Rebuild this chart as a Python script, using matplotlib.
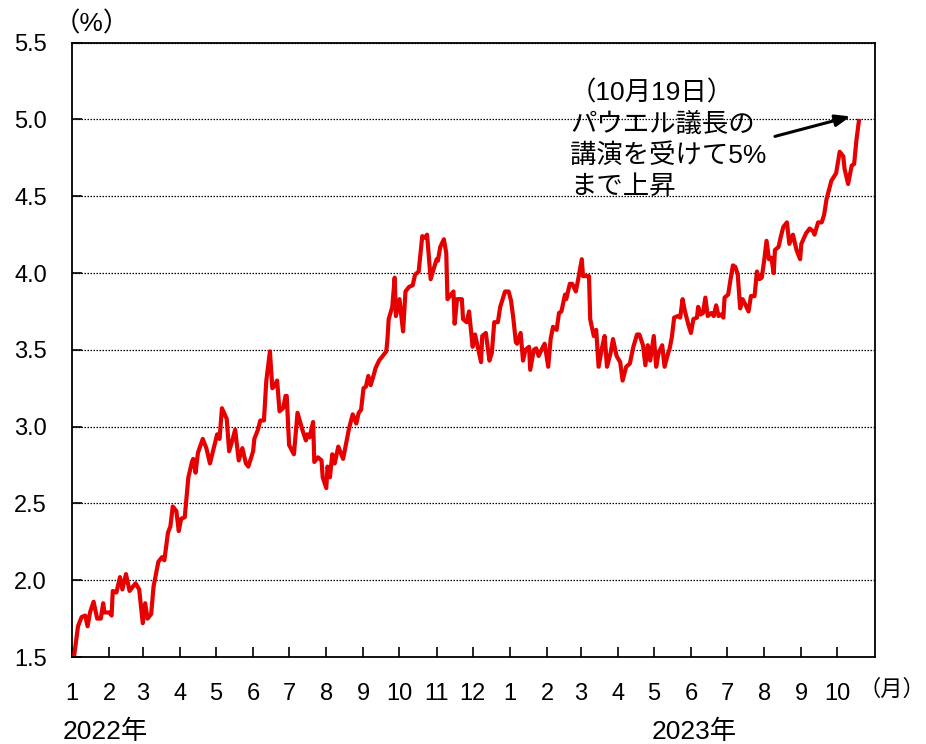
import matplotlib
matplotlib.use("Agg")
import matplotlib.pyplot as plt
import pandas as pd

plt.rcParams['font.family'] = ['Liberation Sans', 'Noto Sans CJK JP', 'DejaVu Sans']

dates_2022 = [
    "2022-01-03", "2022-01-06", "2022-01-09", "2022-01-12", "2022-01-14", "2022-01-16", "2022-01-19",
    "2022-01-22", "2022-01-25", "2022-01-27", "2022-01-28", "2022-02-01", "2022-02-03", "2022-02-04",
    "2022-02-07", "2022-02-10", "2022-02-12", "2022-02-15", "2022-02-18", "2022-02-23", "2022-02-26",
    "2022-03-01", "2022-03-03", "2022-03-05", "2022-03-08", "2022-03-10", "2022-03-14", "2022-03-17",
    "2022-03-19", "2022-03-22", "2022-03-24", "2022-03-26", "2022-03-29", "2022-03-31", "2022-04-02",
    "2022-04-05", "2022-04-08", "2022-04-11", "2022-04-12", "2022-04-14", "2022-04-16", "2022-04-20",
    "2022-04-23", "2022-04-26", "2022-05-02", "2022-05-04", "2022-05-06", "2022-05-10", "2022-05-12",
    "2022-05-15", "2022-05-17", "2022-05-20", "2022-05-23", "2022-05-26", "2022-05-28", "2022-06-01",
    "2022-06-02", "2022-06-05", "2022-06-07", "2022-06-10", "2022-06-12", "2022-06-15", "2022-06-17",
    "2022-06-19", "2022-06-21", "2022-06-23", "2022-06-26", "2022-06-28", "2022-06-29", "2022-07-01",
    "2022-07-05", "2022-07-08", "2022-07-12", "2022-07-15", "2022-07-16", "2022-07-18", "2022-07-21",
    "2022-07-22", "2022-07-25", "2022-07-28", "2022-07-29", "2022-08-01", "2022-08-02", "2022-08-04",
    "2022-08-06", "2022-08-08", "2022-08-11", "2022-08-15", "2022-08-17", "2022-08-20", "2022-08-23",
    "2022-08-26", "2022-08-28", "2022-08-30", "2022-09-01", "2022-09-03", "2022-09-05", "2022-09-07",
    "2022-09-10", "2022-09-11", "2022-09-14", "2022-09-17", "2022-09-20", "2022-09-21", "2022-09-22",
    "2022-09-25", "2022-09-27", "2022-09-28", "2022-10-01", "2022-10-04", "2022-10-06", "2022-10-09",
    "2022-10-12", "2022-10-14", "2022-10-17", "2022-10-20", "2022-10-22", "2022-10-24", "2022-10-27",
    "2022-10-30", "2022-11-01", "2022-11-02", "2022-11-04", "2022-11-07", "2022-11-09", "2022-11-10",
    "2022-11-13", "2022-11-15", "2022-11-16", "2022-11-18", "2022-11-22", "2022-11-23", "2022-11-26",
    "2022-11-28", "2022-12-01", "2022-12-03", "2022-12-06", "2022-12-08", "2022-12-09", "2022-12-12",
    "2022-12-15", "2022-12-17", "2022-12-19", "2022-12-22", "2022-12-24", "2022-12-28", "2022-12-31",
]
yields_2022 = [
    1.52, 1.70, 1.76, 1.77, 1.70, 1.79, 1.86,
    1.75, 1.75, 1.85, 1.79, 1.79, 1.77, 1.93,
    1.92, 2.02, 1.94, 2.04, 1.93, 1.98, 1.94,
    1.72, 1.85, 1.75, 1.78, 1.96, 2.12, 2.15,
    2.13, 2.31, 2.35, 2.48, 2.45, 2.32, 2.40,
    2.41, 2.67, 2.77, 2.79, 2.70, 2.83, 2.92,
    2.86, 2.76, 2.95, 2.92, 3.12, 3.05, 2.84,
    2.92, 2.98, 2.78, 2.86, 2.76, 2.74, 2.84,
    2.92, 2.98, 3.04, 3.04, 3.30, 3.49, 3.25,
    3.27, 3.30, 3.10, 3.12, 3.20, 3.20, 2.88,
    2.82, 3.09, 2.98, 2.91, 2.95, 2.93, 3.03,
    2.77, 2.80, 2.78, 2.67, 2.60, 2.74, 2.67,
    2.82, 2.76, 2.87, 2.79, 2.87, 2.99, 3.08,
    3.02, 3.09, 3.11, 3.25, 3.26, 3.33, 3.27,
    3.35, 3.38, 3.43, 3.46, 3.49, 3.57, 3.70,
    3.78, 3.97, 3.72, 3.83, 3.62, 3.88, 3.91,
    3.92, 3.99, 4.01, 4.24, 4.23, 4.25, 3.96,
    4.04, 4.09, 4.08, 4.17, 4.22, 4.13, 3.83,
    3.86, 3.88, 3.67, 3.83, 3.83, 3.70, 3.68,
    3.75, 3.52, 3.60, 3.49, 3.42, 3.59, 3.61,
    3.43, 3.48, 3.68, 3.68, 3.78, 3.88, 3.88,
]

dates_2023 = [
    "2023-01-02", "2023-01-04", "2023-01-06", "2023-01-07", "2023-01-10", "2023-01-12", "2023-01-14",
    "2023-01-17", "2023-01-18", "2023-01-21", "2023-01-23", "2023-01-25", "2023-01-28", "2023-01-30",
    "2023-02-02", "2023-02-04", "2023-02-06", "2023-02-09", "2023-02-11", "2023-02-13", "2023-02-16",
    "2023-02-17", "2023-02-20", "2023-02-22", "2023-02-25", "2023-02-27", "2023-03-02", "2023-03-03",
    "2023-03-08", "2023-03-09", "2023-03-12", "2023-03-14", "2023-03-16", "2023-03-19", "2023-03-21",
    "2023-03-23", "2023-03-26", "2023-03-28", "2023-03-31", "2023-04-03", "2023-04-05", "2023-04-08",
    "2023-04-11", "2023-04-14", "2023-04-17", "2023-04-19", "2023-04-22", "2023-04-24", "2023-04-26",
    "2023-04-28", "2023-05-01", "2023-05-03", "2023-05-05", "2023-05-08", "2023-05-10", "2023-05-13",
    "2023-05-14", "2023-05-16", "2023-05-18", "2023-05-21", "2023-05-23", "2023-05-25", "2023-05-27",
    "2023-05-30", "2023-06-01", "2023-06-03", "2023-06-06", "2023-06-07", "2023-06-09", "2023-06-11",
    "2023-06-13", "2023-06-15", "2023-06-18", "2023-06-20", "2023-06-22", "2023-06-24", "2023-06-26",
    "2023-06-28", "2023-06-29", "2023-07-02", "2023-07-04", "2023-07-06", "2023-07-08", "2023-07-10",
    "2023-07-12", "2023-07-14", "2023-07-16", "2023-07-19", "2023-07-21", "2023-07-24", "2023-07-26",
    "2023-07-28", "2023-07-30", "2023-08-01", "2023-08-03", "2023-08-05", "2023-08-07", "2023-08-09",
    "2023-08-10", "2023-08-13", "2023-08-15", "2023-08-17", "2023-08-20", "2023-08-22", "2023-08-25",
    "2023-08-28", "2023-08-31", "2023-09-01", "2023-09-05", "2023-09-08", "2023-09-11", "2023-09-12",
    "2023-09-15", "2023-09-18", "2023-09-20", "2023-09-22", "2023-09-26", "2023-09-30", "2023-10-03",
    "2023-10-06", "2023-10-07", "2023-10-10", "2023-10-13", "2023-10-15", "2023-10-17", "2023-10-19",
]
yields_2023 = [
    3.82, 3.70, 3.55, 3.54, 3.61, 3.43, 3.50,
    3.52, 3.37, 3.50, 3.51, 3.46, 3.51, 3.54,
    3.39, 3.57, 3.65, 3.63, 3.74, 3.75, 3.86,
    3.83, 3.93, 3.93, 3.88, 3.96, 4.09, 3.98,
    3.98, 3.70, 3.59, 3.63, 3.39, 3.52, 3.59,
    3.39, 3.48, 3.57, 3.46, 3.42, 3.30, 3.39,
    3.41, 3.52, 3.60, 3.60, 3.53, 3.40, 3.53,
    3.43, 3.59, 3.39, 3.48, 3.53, 3.39, 3.48,
    3.50, 3.58, 3.71, 3.72, 3.71, 3.83, 3.75,
    3.66, 3.61, 3.70, 3.71, 3.78, 3.73, 3.74,
    3.84, 3.72, 3.74, 3.72, 3.79, 3.72, 3.73,
    3.71, 3.84, 3.86, 3.96, 4.05, 4.04, 3.99,
    3.77, 3.83, 3.80, 3.75, 3.85, 3.85, 4.01,
    3.96, 3.97, 4.08, 4.21, 4.09, 4.10, 4.00,
    4.15, 4.17, 4.24, 4.30, 4.33, 4.19, 4.25,
    4.15, 4.09, 4.19, 4.26, 4.29, 4.27, 4.25,
    4.33, 4.33, 4.38, 4.48, 4.60, 4.65, 4.79,
    4.76, 4.68, 4.58, 4.70, 4.71, 4.87, 4.99,
]

month_labels = ["1", "2", "3", "4", "5", "6", "7", "8", "9", "10", "11", "12",
                "1", "2", "3", "4", "5", "6", "7", "8", "9", "10"]
y_ticks = [1.5, 2.0, 2.5, 3.0, 3.5, 4.0, 4.5, 5.0, 5.5]
year_labels = ["2022年", "2023年"]
annotation_text = "（10月19日）\nパウエル議長の\n講演を受けて5%\nまで上昇"

dates = pd.to_datetime(dates_2022 + dates_2023)
yields = yields_2022 + yields_2023

W, H = 926, 744
fig = plt.figure(figsize=(W/100, H/100), dpi=100)
ax = fig.add_axes([72/W, 1-657/H, (874.5-72)/W, (657-42.7)/H])

ax.plot(dates, yields, color="#E60000", lw=3.0, solid_joinstyle="round", zorder=3)

ax.set_xlim(pd.Timestamp("2022-01-01"), pd.Timestamp("2023-11-01"))
ax.set_ylim(1.5, 5.5)

tick_dates = pd.date_range("2022-01-01", periods=len(month_labels), freq="MS")
ax.set_xticks(tick_dates)
ax.set_xticklabels(month_labels)
ax.set_yticks(y_ticks)
ax.set_yticklabels([f"{v:.1f}" for v in y_ticks])

ax.tick_params(axis="x", direction="in", length=7, width=1.2, pad=19, labelsize=17)
ax.tick_params(axis="y", direction="in", length=7, width=1.2, pad=18, labelsize=17)

ax.yaxis.grid(True, linestyle=(0, (1.2, 1.2)), color="black", lw=0.9)
ax.set_axisbelow(True)
for s in ax.spines.values():
    s.set_linewidth(1.3)
    s.set_color("black")

fig.text(92/W, 1-24/H, "（%）", fontsize=19, va="center", ha="center")
fig.text(892/W, 1-690/H, "（月）", fontsize=16, va="center", ha="center")
fig.text(63/W, 1-732/H, year_labels[0], fontsize=19, va="center", ha="left")
fig.text(652/W, 1-732/H, year_labels[1], fontsize=19, va="center", ha="left")

fig.text(570/W, 1-80/H, annotation_text, fontsize=19, va="top", ha="left",
         linespacing=1.36)
ax.annotate("", xy=(pd.Timestamp("2023-10-12"), 5.02), xytext=(pd.Timestamp("2023-08-10"), 4.89),
            arrowprops=dict(arrowstyle="-|>,head_length=0.9,head_width=0.35", color="black", lw=2.2,
                            shrinkA=0, shrinkB=0))

fig.savefig("out.png", dpi=100)
